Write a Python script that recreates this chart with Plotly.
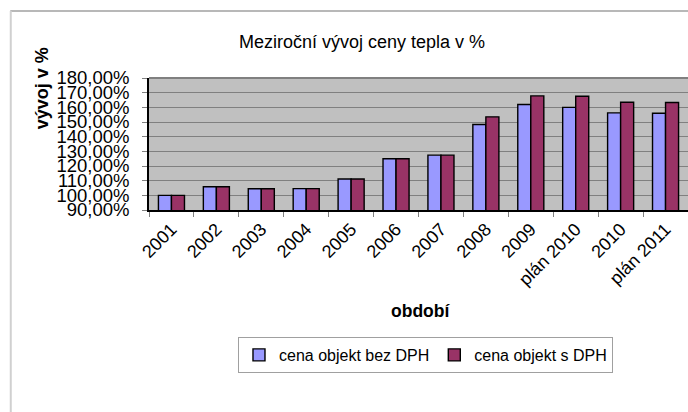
import plotly.graph_objects as go

categories = ["2001", "2002", "2003", "2004", "2005", "2006", "2007", "2008",
              "2009", "plán 2010", "2010", "plán 2011"]
bez_dph = [100.0, 105.9, 104.5, 104.6, 111.1, 124.9, 127.4, 148.3, 161.9, 160.0, 156.2, 156.0]
s_dph = [100.0, 105.9, 104.5, 104.6, 111.1, 124.9, 127.4, 153.5, 167.8, 167.6, 163.5, 163.3]
series_names = ["cena objekt bez DPH", "cena objekt s DPH"]
y_ticks = [90, 100, 110, 120, 130, 140, 150, 160, 170, 180]
y_ticktext = [f"{v},00%" for v in y_ticks]

W, H = 688, 412
L, R, T, B = 149, -1, 78, 202
pw, ph = W - L - R, H - T - B

def px(x):
    return (x - L) / pw

def py(y):
    return (H - B - y) / ph

FONT = "Liberation Sans, Arial, sans-serif"

fig = go.Figure()
fig.add_trace(go.Bar(x=categories, y=bez_dph, name=series_names[0],
                     marker=dict(color="#9999FF", line=dict(color="#000000", width=1.4))))
fig.add_trace(go.Bar(x=categories, y=s_dph, name=series_names[1],
                     marker=dict(color="#993366", line=dict(color="#000000", width=1.4))))

fig.update_layout(
    width=W, height=H,
    margin=dict(l=L, r=0, t=T, b=B, pad=0, autoexpand=False),
    paper_bgcolor="white",
    plot_bgcolor="#C0C0C0",
    barmode="group",
    bargap=0.42,
    bargroupgap=0,
    font=dict(family=FONT, size=17, color="#000000"),
    showlegend=True,
    legend=dict(orientation="h", x=px(426), xanchor="center", y=py(337), yanchor="top",
                bordercolor="#A0A0A0", borderwidth=1, bgcolor="white",
                font=dict(size=16), itemwidth=30, traceorder="normal"),
    xaxis=dict(type="category", tickson="boundaries", ticks="outside", ticklen=5,
               tickcolor="#808080", showline=True, linecolor="#000000", linewidth=1.5,
               tickangle=-45, tickfont=dict(size=18), showgrid=False, automargin=False,
               range=[-0.5, 11.5]),
    yaxis=dict(range=[90, 180], tickvals=y_ticks, ticktext=y_ticktext, ticks="outside",
               ticklen=5, tickcolor="#808080", showline=True, linecolor="#000000", linewidth=1.5,
               showgrid=True, gridcolor="#808080", gridwidth=1, tickfont=dict(size=18.5),
               zeroline=False, automargin=False, ticklabelstandoff=9),
    shapes=[
        dict(type="line", xref="paper", yref="paper", x0=px(10), x1=px(700), y0=py(11), y1=py(11),
             line=dict(color="#A0A0A0", width=1.5)),
        dict(type="line", xref="paper", yref="paper", x0=px(10.5), x1=px(10.5), y0=py(11), y1=py(420),
             line=dict(color="#D0D0D0", width=2)),
        dict(type="line", xref="paper", yref="paper", x0=0, x1=1, y0=1, y1=1,
             line=dict(color="#808080", width=2)),
    ],
    annotations=[
        dict(text="Meziroční vývoj ceny tepla v %", xref="paper", yref="paper",
             x=px(362), y=py(42), xanchor="center", yanchor="middle", showarrow=False,
             font=dict(size=18)),
        dict(text="<b>vývoj v %</b>", xref="paper", yref="paper", textangle=-90,
             x=px(42), y=py(88), xanchor="center", yanchor="middle", showarrow=False,
             font=dict(size=18)),
        dict(text="<b>období</b>", xref="paper", yref="paper",
             x=px(421), y=py(311), xanchor="center", yanchor="middle", showarrow=False,
             font=dict(size=17.5)),
    ],
)

fig.write_html("out.html", config={"displayModeBar": False},
               post_script="document.body.style.margin='0';document.body.style.overflow='hidden';")
